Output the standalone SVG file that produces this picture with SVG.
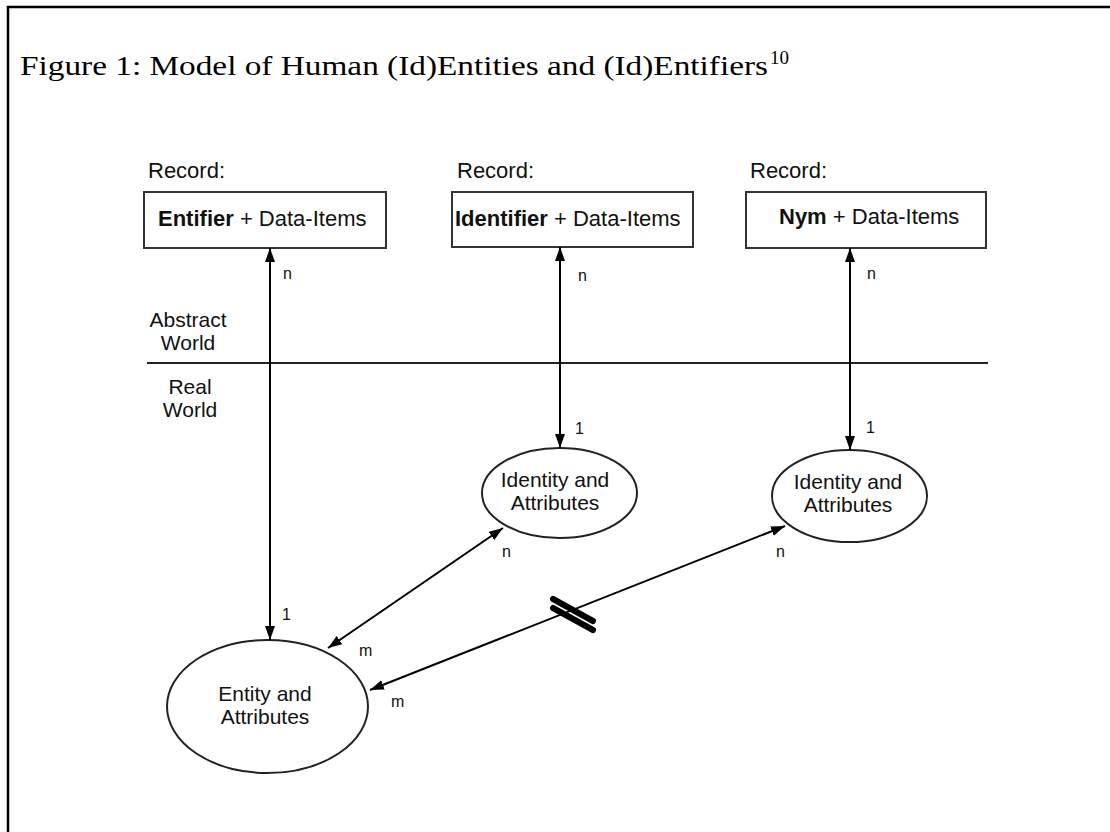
<svg xmlns="http://www.w3.org/2000/svg" width="1110" height="832" viewBox="0 0 1110 832">
<style>
.t{font-family:"Liberation Sans",Arial,sans-serif;fill:#111}
.lab{font-size:22px}
.two{font-size:21px}
.small{font-size:16px}
.box{fill:#fff;stroke:#333;stroke-width:2}
.ell{fill:#fff;stroke:#222;stroke-width:2}
.con{stroke:#000;stroke-width:2;fill:none}
</style>
<defs>
<marker id="ah" viewBox="0 0 14 10" refX="14" refY="5" markerWidth="14" markerHeight="10" markerUnits="userSpaceOnUse" orient="auto-start-reverse">
<path d="M0,0 L14,5 L0,10 Z" fill="#000"/>
</marker>
</defs>
<rect width="1110" height="832" fill="#fff"/>
<path d="M8,832 V7 H1110" fill="none" stroke="#000" stroke-width="2.5"/>
<text x="20" y="75" font-family="'Liberation Serif','Times New Roman',serif" font-size="27" fill="#000" textLength="748" lengthAdjust="spacingAndGlyphs">Figure 1: Model of Human (Id)Entities and (Id)Entifiers</text>
<text x="770" y="64" font-family="'Liberation Serif','Times New Roman',serif" font-size="19" fill="#000">10</text>

<g id="record1">
<text class="t lab" x="148" y="178">Record:</text>
<rect class="box" x="144" y="192" width="242" height="56"/>
<text class="t lab" x="158" y="226"><tspan font-weight="bold">Entifier</tspan> + Data-Items</text>
</g>
<g id="record2">
<text class="t lab" x="457" y="178">Record:</text>
<rect class="box" x="452" y="192" width="241" height="55"/>
<text class="t lab" x="455" y="226"><tspan font-weight="bold">Identifier</tspan> + Data-Items</text>
</g>
<g id="record3">
<text class="t lab" x="750" y="178">Record:</text>
<rect class="box" x="746" y="192" width="240" height="56"/>
<text class="t lab" x="779" y="224"><tspan font-weight="bold">Nym</tspan> + Data-Items</text>
</g>

<g id="worlds">
<line x1="147" y1="363" x2="988" y2="363" stroke="#222" stroke-width="2"/>
<text class="t two" x="188" y="327" text-anchor="middle">Abstract</text>
<text class="t two" x="188" y="350" text-anchor="middle">World</text>
<text class="t two" x="190" y="394" text-anchor="middle">Real</text>
<text class="t two" x="190" y="417" text-anchor="middle">World</text>
</g>

<g id="identity1">
<ellipse class="ell" cx="559.5" cy="493" rx="77.5" ry="45"/>
<text class="t two" x="555" y="487" text-anchor="middle">Identity and</text>
<text class="t two" x="555" y="510" text-anchor="middle">Attributes</text>
</g>
<g id="identity2">
<ellipse class="ell" cx="849.5" cy="496" rx="77.5" ry="46"/>
<text class="t two" x="848" y="489" text-anchor="middle">Identity and</text>
<text class="t two" x="848" y="512" text-anchor="middle">Attributes</text>
</g>
<g id="entity">
<ellipse class="ell" cx="267.5" cy="706.5" rx="100.5" ry="66.5"/>
<text class="t two" x="265" y="701" text-anchor="middle">Entity and</text>
<text class="t two" x="265" y="724" text-anchor="middle">Attributes</text>
</g>

<g id="connectors">
<line class="con" x1="270" y1="248" x2="270" y2="640" marker-start="url(#ah)" marker-end="url(#ah)"/>
<line class="con" x1="560" y1="247" x2="560" y2="448" marker-start="url(#ah)" marker-end="url(#ah)"/>
<line class="con" x1="850" y1="248" x2="850" y2="450" marker-start="url(#ah)" marker-end="url(#ah)"/>
<line class="con" x1="328" y1="648" x2="503" y2="528" marker-start="url(#ah)" marker-end="url(#ah)"/>
<line class="con" x1="370" y1="690" x2="785" y2="526" marker-start="url(#ah)" marker-end="url(#ah)"/>
<line x1="553" y1="599" x2="593" y2="621" stroke="#000" stroke-width="6" stroke-linecap="round"/>
<line x1="553" y1="608" x2="593" y2="630" stroke="#000" stroke-width="6" stroke-linecap="round"/>
<text class="t small" x="283" y="279">n</text>
<text class="t small" x="578" y="281">n</text>
<text class="t small" x="867" y="279">n</text>
<text class="t small" x="575" y="434">1</text>
<text class="t small" x="866" y="433">1</text>
<text class="t small" x="282" y="620">1</text>
<text class="t small" x="359" y="656">m</text>
<text class="t small" x="391" y="707">m</text>
<text class="t small" x="502" y="557">n</text>
<text class="t small" x="776" y="557">n</text>
</g>
</svg>
